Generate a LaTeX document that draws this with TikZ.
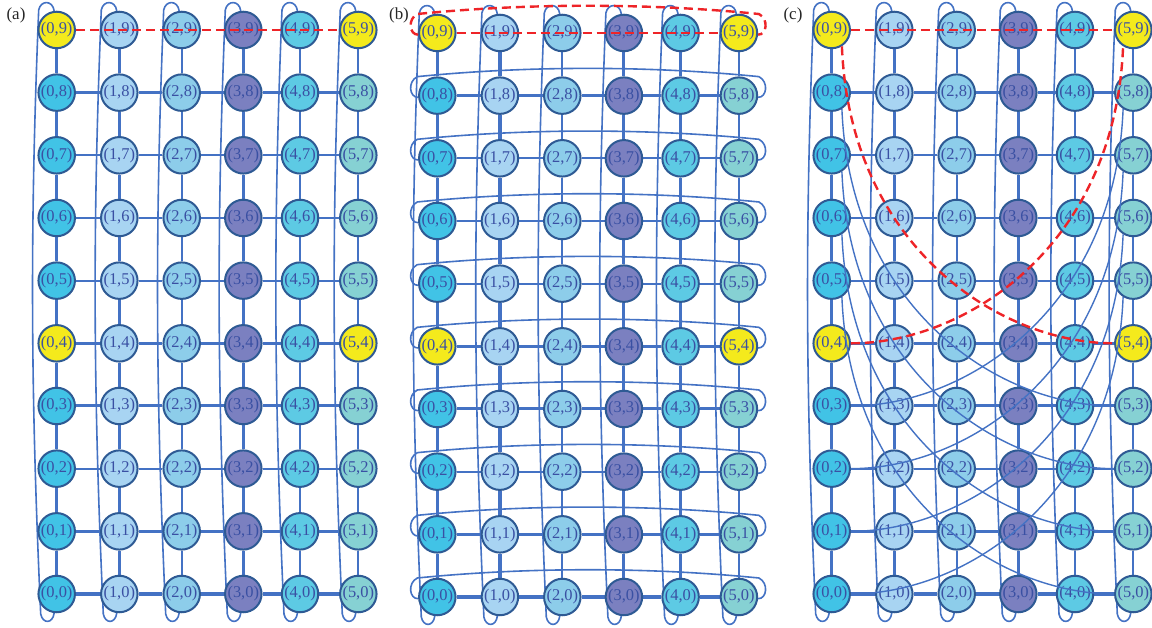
\documentclass[tikz,border=0pt]{standalone}
\usepackage{fontspec}
\setmainfont{Liberation Serif}
\definecolor{edgeblue}{HTML}{4472C4}
\definecolor{nodeborder}{HTML}{2E5A94}
\definecolor{txtblue}{HTML}{3A50A3}
\definecolor{cA}{HTML}{41C3E6}
\definecolor{cB}{HTML}{A8D4F2}
\definecolor{cC}{HTML}{8DCDEA}
\definecolor{cD}{HTML}{7B80C0}
\definecolor{cE}{HTML}{5DCAE4}
\definecolor{cF}{HTML}{86D1D3}
\definecolor{ylw}{HTML}{F4EA1C}
\definecolor{dashred}{HTML}{EE2428}
\pgfdeclarelayer{background}
\pgfsetlayers{background,main}
\begin{document}
\begin{tikzpicture}[x=1bp,y=-1bp,
  gnode/.style={circle, draw=nodeborder, line width=2bp, minimum size=36.5bp, inner sep=0pt, text=txtblue, font=\fontsize{16.5}{17}\selectfont},
  wrapline/.style={draw=edgeblue, line width=1.6bp},
  twist/.style={draw=edgeblue, line width=1.4bp},
  reddash/.style={draw=dashred, line width=2.4bp, dash pattern=on 9bp off 5bp},
  plabel/.style={font=\fontsize{17}{18}\selectfont, text=black!85, inner sep=0pt}]
\useasboundingbox (0,0) rectangle (1152,628);
% panel labels
\node[plabel] (la) at (16,15) {(a)};
\node[plabel] (lb) at (399,15) {(b)};
\node[plabel] (lc) at (793,15) {(c)};
% nodes
\foreach \p/\X/\Y in {a/56.7/594,b/437.3/597,c/831.7/594}{
  \foreach \i/\dx/\col in {0/0/cA,1/62.6/cB,2/125/cC,3/186.6/cD,4/243.3/cE,5/301.6/cF}{
    \foreach \j in {0,...,9}{
      \pgfmathtruncatemacro\isy{((\i==0)||(\i==5))&&((\j==4)||(\j==9))}
      \ifnum\isy=1 \def\fc{ylw}\else\edef\fc{\col}\fi
      \node[gnode, fill=\fc] (\p\i-\j) at ({\X+\dx},{\Y-\j*62.67}) {(\i,\j)};
    }
  }
}
% edges and wraps behind nodes
\begin{pgfonlayer}{background}
\fill[white] (0,0) rectangle (1152,628);
\foreach \p/\X/\Y in {a/56.7/594,b/437.3/597,c/831.7/594}{
  \foreach \i/\dx/\vw in {0/0/3.5,1/62.6/3.2,2/125/2.3,3/186.6/3,4/243.3/2.3,5/301.6/2}{
    \pgfmathsetmacro\cx{\X+\dx}
    \pgfmathsetmacro\yb{\Y}
    \pgfmathsetmacro\yt{\Y-564.03}
    \foreach \j in {0,...,8}{
      \pgfmathtruncatemacro\jj{\j+1}
      \draw[edgeblue, line width=\vw bp] (\p\i-\j) -- (\p\i-\jj);
    }
    \draw[wrapline] (\p\i-0) .. controls (\cx-4,\yb+30) and (\cx-14,\yb+30) .. (\cx-16,\yb+20)
      .. controls (\cx-26,\yb-200) and (\cx-27,\yt+200) .. (\cx-18,\yt-20)
      .. controls (\cx-16,\yt-30) and (\cx-4,\yt-30) .. (\p\i-9);
  }
  \foreach \i/\ii in {0/1,1/2,2/3,3/4,4/5}{
    \foreach \j/\w in {0/3.2,1/3.2,2/2,3/3,4/3,5/2,6/2.5,7/2,8/2.5}{
      \draw[edgeblue, line width=\w bp] (\p\i-\j) -- (\p\ii-\j);
    }
  }
}
% row wraps of panel (b)
\foreach \j in {0,...,8}{
  \pgfmathsetmacro\cy{597-\j*62.67}
  \draw[wrapline] (b0-\j.185) .. controls (409.3,\cy+2) and (407.3,\cy-14) .. (417.3,\cy-19)
    .. controls (527.3,\cy-30) and (648.9,\cy-30) .. (758.9,\cy-19)
    .. controls (768.9,\cy-14) and (766.9,\cy+2) .. (b5-\j.-5);
}
\end{pgfonlayer}
% twisted wraps of panel (c)
\foreach \j in {5,...,8}{
  \pgfmathtruncatemacro\k{\j-5}
  \draw[twist] (c0-\j.-58) .. controls +(8,200) and +(-115,0) .. (c5-\k.west);
}
\foreach \j in {0,...,3}{
  \pgfmathtruncatemacro\k{\j+5}
  \draw[twist] (c0-\j.east) .. controls +(115,0) and +(-8,200) .. (c5-\k.-122);
}
% red dashed paths
\draw[reddash] (a0-9) -- (a5-9);
\draw[reddash] (b0-9) -- (b5-9);
\draw[reddash] (b0-9.185) .. controls (409.3,35) and (407.3,19) .. (417.3,14)
    .. controls (527.3,3) and (648.9,3) .. (758.9,14)
    .. controls (768.9,19) and (766.9,35) .. (b5-9.-5);
\draw[reddash] (c0-9) -- (c5-9);
\draw[reddash] (c0-9.-58) .. controls +(8,200) and +(-115,0) .. (c5-4.west);
\draw[reddash] (c0-4.east) .. controls +(115,0) and +(-8,200) .. (c5-9.-122);
\end{tikzpicture}
\end{document}
